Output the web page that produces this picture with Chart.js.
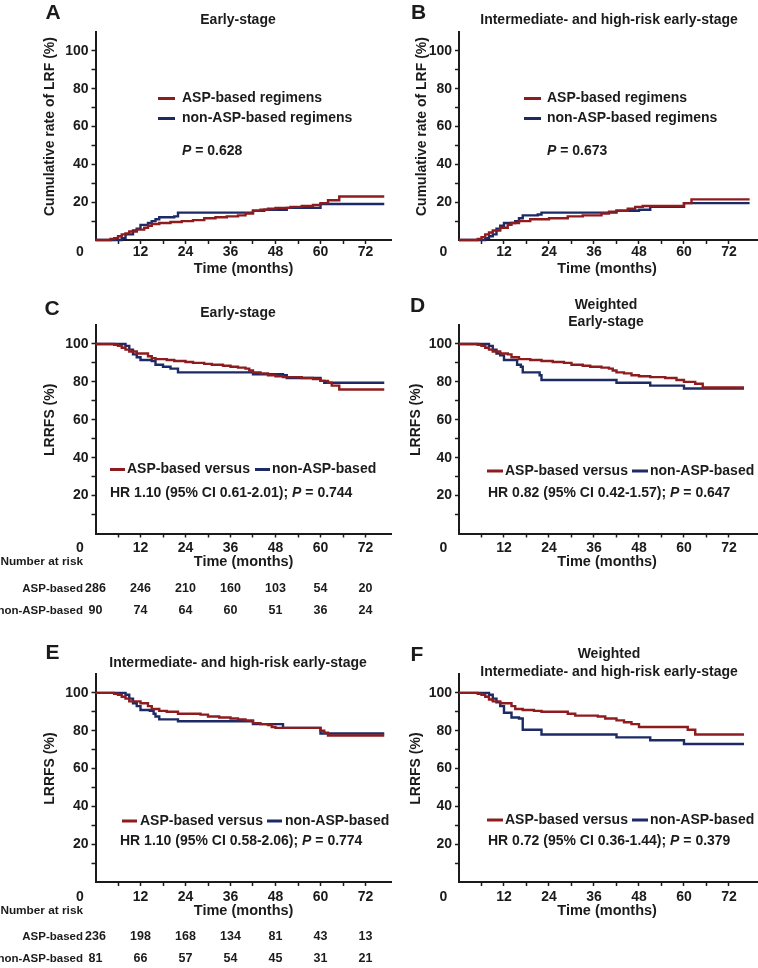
<!DOCTYPE html>
<html>
<head>
<meta charset="utf-8">
<title>LRF / LRRFS curves</title>
<script src="https://cdn.jsdelivr.net/npm/chart.js@4.4.1/dist/chart.umd.min.js"></script>
<style>
  html, body { margin: 0; padding: 0; background: #fff; }
  #page { position: relative; width: 758px; height: 968px; overflow: hidden; background: #fff; }
  #page canvas { position: absolute; }
</style>
</head>
<body>
<div id="page"></div>
<script>
// ---- axes ----
const monthMarks = [0, 6, 12, 18, 24, 30, 36, 42, 48, 54, 60, 66, 72];   // tick marks (labels every 12)
const percentMarks = [0, 10, 20, 30, 40, 50, 60, 70, 80, 90, 100];      // tick marks (labels every 20)
const riskMonths = [0, 12, 24, 36, 48, 60, 72];

// ---- A: cumulative LRF (%), early-stage ----
const monthsAspA = [0, 4, 5, 6, 7, 8, 9, 11, 13, 14, 15, 17, 20, 23, 26, 29, 32, 35, 38, 40, 42, 44, 46, 48, 52, 55, 58, 60, 62, 65, 77];
const lrfAspA    = [0, 0.5, 1, 2, 3, 3.5, 4.5, 5.5, 6.5, 7.5, 8.5, 9, 9.5, 10, 10.5, 11.5, 12, 12.5, 13, 14, 15.5, 16, 16.5, 17, 17.5, 18, 18.5, 19.5, 21, 23, 23];
const monthsNonA = [0, 6, 7, 8, 10, 11, 12, 14, 15, 16, 17, 21, 22, 41, 42, 45, 50, 51, 60, 77];
const lrfNonA    = [0, 0, 1, 3, 5, 6, 8, 9, 10, 11, 12, 12.5, 14.5, 14.5, 15.5, 16, 16, 17, 19, 19];

// ---- B: cumulative LRF (%), intermediate- and high-risk ----
const monthsAspB = [0, 5, 6, 7, 8, 9, 11, 13, 14, 16, 19, 24, 29, 33, 38, 40, 42, 45, 47, 49, 60, 62, 77.5];
const lrfAspB    = [0, 0.5, 1.5, 3, 4, 5, 6.5, 8, 9, 10, 11, 11.5, 12.5, 13, 14, 15, 15.5, 16.5, 17.5, 18, 19.5, 21.5, 21.5];
const monthsNonB = [0, 7, 8, 9, 10, 11, 12, 15, 16, 17, 21, 22, 42, 48, 51, 60, 77.5];
const lrfNonB    = [0, 1, 2, 3, 6, 7.5, 9, 10, 11.5, 13, 13.5, 14.5, 15.5, 16, 17.5, 19.5, 19.5];

// ---- C: LRRFS (%), early-stage ----
const monthsAspC = [0, 5, 6, 7, 8, 9, 11, 14, 15, 16, 19, 21, 24, 26, 29, 31, 34, 36, 38, 40, 41, 42, 44, 46, 48, 50, 55, 58, 60, 62, 63, 65, 77];
const rfsAspC    = [100, 99.5, 99, 98, 97, 96, 95, 93.5, 92.5, 92, 91.5, 91, 90.5, 90, 89.5, 89, 88.5, 88, 87.5, 87, 86, 85, 84.5, 83.5, 83, 82.5, 82, 81.5, 80.5, 79.5, 78, 76, 76];
const monthsNonC = [0, 7, 8, 9, 10, 11, 12, 15, 16, 18, 20, 22, 42, 50, 51, 60, 61, 77];
const rfsNonC    = [100, 100, 99, 97, 94.5, 93, 91.5, 91, 89, 88, 87, 85, 84, 83.5, 82, 80.5, 79.5, 79.5];

// ---- D: weighted LRRFS (%), early-stage ----
const monthsAspD = [0, 5, 6, 7, 8, 9, 11, 13, 14, 16, 19, 22, 25, 28, 30, 33, 35, 38, 40, 41, 42, 44, 46, 48, 51, 55, 58, 60, 63, 65, 76];
const rfsAspD    = [100, 99.5, 99, 98, 97, 96, 95, 94.5, 93, 92, 91.5, 91, 90.5, 90, 89, 88.5, 88, 87.5, 87, 86, 85, 84.5, 83.5, 83, 82.5, 82, 81, 80, 79, 77, 77];
const monthsNonD = [0, 7, 8, 9, 10, 11, 12, 15.5, 16.5, 17, 21.5, 22, 42, 51, 60, 76];
const rfsNonD    = [100, 100, 99, 97, 95, 94, 91.5, 89, 88, 85, 83.5, 81, 79.5, 78, 76.5, 76.5];

// ---- E: LRRFS (%), intermediate- and high-risk ----
const monthsAspE = [0, 5, 6, 7, 8, 9, 12, 14, 15, 17, 19, 22, 28, 30, 33, 36, 38, 40, 42, 44, 46, 47, 48, 60, 61, 62, 77];
const rfsAspE    = [100, 99.5, 99, 98, 97, 95.5, 94.5, 93, 91.5, 90.5, 90, 89, 88.5, 87.5, 87, 86.5, 86, 85.5, 84, 83.5, 83, 82, 81.5, 80, 79, 77.5, 77.5];
const monthsNonE = [0, 7, 8, 9, 10, 11, 12, 14.5, 15.5, 16, 17, 22, 42, 50, 60, 77];
const rfsNonE    = [100, 100, 99, 97, 94.5, 93, 91, 90.5, 89, 87.5, 86, 85, 83.5, 81.5, 78.5, 78.5];

// ---- F: weighted LRRFS (%), intermediate- and high-risk ----
const monthsAspF = [0, 5, 6, 7, 8, 9, 11, 14, 15, 17, 20, 22, 29, 31, 37, 39, 42, 44, 46, 48, 61, 63, 76];
const rfsAspF    = [100, 99.5, 99, 98, 96.5, 95.5, 94.5, 93, 91.5, 91, 90.5, 90, 89, 88, 87.5, 86.5, 85.5, 84.5, 83.5, 82, 80.5, 78, 78];
const monthsNonF = [0, 7, 8, 9, 10, 11, 12, 14, 16, 17, 22, 42, 51, 60, 76];
const rfsNonF    = [100, 100, 99, 97, 95, 93, 89.5, 87, 86.5, 80.5, 78, 76.5, 75, 73, 73];

// ---- numbers at risk ----
const riskAspC = [286, 246, 210, 160, 103, 54, 20];
const riskNonC = [90, 74, 64, 60, 51, 36, 24];
const riskAspE = [236, 198, 168, 134, 81, 43, 13];
const riskNonE = [81, 66, 57, 54, 45, 31, 21];

// ---- style ----
const INK = '#1b1b1b';
const RED = '#8e1c1f';
const BLUE = '#1c2a66';
const FAMILY = 'Arial, "Liberation Sans", Helvetica, sans-serif';
const Y_W = 40, X_H = 20;

function font(size, italic) {
  return (italic ? 'italic ' : '') + 'bold ' + size + 'px ' + FAMILY;
}

function txt(ctx, s, x, y, size, align) {
  ctx.font = font(size);
  ctx.textAlign = align || 'left';
  ctx.textBaseline = 'middle';
  ctx.fillStyle = INK;
  ctx.fillText(s, x, y);
}

// text made of plain and italic pieces, left aligned
function rich(ctx, parts, x, y, size) {
  let cx = x;
  ctx.textAlign = 'left';
  ctx.textBaseline = 'middle';
  ctx.fillStyle = INK;
  parts.forEach(pt => {
    ctx.font = font(size, pt.it);
    ctx.fillText(pt.t, cx, y);
    cx += ctx.measureText(pt.t).width;
  });
}

function kmPoints(months, vals) {
  return months.map((m, i) => ({ x: m, y: vals[i] }));
}

// draws letters, titles, legend, statistics and risk table
function panelText(p) {
  return {
    id: 'panelText',
    afterDraw(chart) {
      const ctx = chart.ctx;
      const xs = chart.scales.x, ys = chart.scales.y;
      ctx.save();
      ctx.translate(-p.left, -p.top);

      txt(ctx, p.letter, p.letterAt[0], p.letterAt[1], 21, 'center');
      p.title.forEach((line, i) => txt(ctx, line, p.titleX, p.titleY[i], 14, 'center'));

      // y title, centred on the 60 % tick
      ctx.save();
      ctx.translate(p.yTitleX, ys.getPixelForValue(60) + p.top);
      ctx.rotate(-Math.PI / 2);
      txt(ctx, p.yTitle, 0, 0, 14, 'center');
      ctx.restore();

      txt(ctx, 'Time (months)', xs.getPixelForValue(39.5) + p.left, p.area.b + 28.5, 14.5, 'center');
      txt(ctx, '0', p.area.l - 15.5, p.area.b + p.zeroDy, 14, 'center');

      // legend
      p.legend.forEach(it => {
        ctx.strokeStyle = it.color;
        ctx.lineWidth = 3;
        ctx.beginPath();
        ctx.moveTo(it.x, it.y);
        ctx.lineTo(it.x + p.keyLen, it.y);
        ctx.stroke();
        txt(ctx, it.label, it.x + p.keyLen + p.keyGap, it.y, 14, 'left');
      });
      rich(ctx, p.stat, p.statAt[0], p.statAt[1], 14);

      if (p.risk) {
        const r = p.risk;
        txt(ctx, 'Number at risk', 83, r.y[0], 11.8, 'right');
        txt(ctx, 'ASP-based', 83, r.y[1], 11.5, 'right');
        txt(ctx, 'non-ASP-based', 83, r.y[2], 11.5, 'right');
        riskMonths.forEach((m, i) => {
          const x = xs.getPixelForValue(m) + p.left;
          txt(ctx, String(r.asp[i]), x, r.y[1], 12.5, 'center');
          txt(ctx, String(r.non[i]), x, r.y[2], 12.5, 'center');
        });
      }
      ctx.restore();
    }
  };
}

function makePanel(p) {
  const cv = document.createElement('canvas');
  cv.width = p.w; cv.height = p.h;
  cv.style.left = p.left + 'px'; cv.style.top = p.top + 'px';
  cv.style.width = p.w + 'px'; cv.style.height = p.h + 'px';
  document.getElementById('page').appendChild(cv);

  const a = p.area;
  const hideZero = c => (c.tick && c.tick.value === 0) ? 'rgba(0,0,0,0)' : INK;
  const tickFont = { family: FAMILY, size: 14, weight: 'bold' };

  new Chart(cv.getContext('2d'), {
    type: 'line',
    data: {
      datasets: [
        { label: 'ASP-based', data: kmPoints(p.asp[0], p.asp[1]), borderColor: RED, borderWidth: 2.4,
          stepped: 'before', pointRadius: 0, fill: false, clip: false },
        { label: 'non-ASP-based', data: kmPoints(p.non[0], p.non[1]), borderColor: BLUE, borderWidth: 2.4,
          stepped: 'before', pointRadius: 0, fill: false, clip: false }
      ]
    },
    options: {
      responsive: false,
      animation: false,
      layout: {
        padding: {
          left: a.l - p.left - Y_W,
          top: a.t - p.top,
          right: p.left + p.w - a.r,
          bottom: p.top + p.h - a.b - X_H
        }
      },
      plugins: { legend: { display: false }, tooltip: { enabled: false } },
      scales: {
        x: {
          type: 'linear', min: 0, max: p.xMax,
          afterFit: s => { s.height = X_H; },
          afterBuildTicks: s => { s.ticks = monthMarks.map(v => ({ value: v })); },
          ticks: {
            autoSkip: false, maxRotation: 0, padding: p.xPad, color: INK, font: tickFont,
            callback: v => (v > 0 && v % 12 === 0) ? String(v) : ''
          },
          grid: { drawOnChartArea: false, drawTicks: true, tickLength: 4, tickWidth: 1.5, tickColor: hideZero },
          border: { display: true, color: INK, width: 2 }
        },
        y: {
          type: 'linear', min: 0, max: 110,
          afterFit: s => { s.width = Y_W; },
          afterBuildTicks: s => { s.ticks = percentMarks.map(v => ({ value: v })); },
          ticks: {
            autoSkip: false, padding: 3, color: INK, font: tickFont,
            callback: v => (v > 0 && v % 20 === 0) ? String(v) : ''
          },
          grid: { drawOnChartArea: false, drawTicks: true, tickLength: 4, tickWidth: 1.5, tickColor: hideZero },
          border: { display: true, color: INK, width: 2 }
        }
      }
    },
    plugins: [panelText(p)]
  });
}

const LEFT_AREA = { l: 95.5, r: 391.75 };
const RIGHT_AREA = { l: 459, r: 757.1 };
const lrfTitle = 'Cumulative rate of LRF (%)';
const rfsTitle = 'LRRFS (%)';
const ihr = 'Intermediate- and high-risk early-stage';

const panels = [
  { letter: 'A', letterAt: [53, 13.5], title: ['Early-stage'], titleX: 238, titleY: [20],
    left: 0, top: 0, w: 400, h: 300, area: Object.assign({ t: 32, b: 240 }, LEFT_AREA), xMax: 79,
    xPad: 0, zeroDy: 12.4, yTitle: lrfTitle, yTitleX: 50,
    asp: [monthsAspA, lrfAspA], non: [monthsNonA, lrfNonA],
    keyLen: 17, keyGap: 7,
    legend: [{ color: RED, x: 158, y: 98.5, label: 'ASP-based regimens' },
             { color: BLUE, x: 158, y: 118.5, label: 'non-ASP-based regimens' }],
    stat: [{ t: 'P', it: true }, { t: ' = 0.628' }], statAt: [182, 151] },
  { letter: 'B', letterAt: [418.5, 13.5], title: [ihr], titleX: 609, titleY: [20],
    left: 379, top: 0, w: 379, h: 300, area: Object.assign({ t: 32, b: 240 }, RIGHT_AREA), xMax: 79.5,
    xPad: 0, zeroDy: 12.4, yTitle: lrfTitle, yTitleX: 422,
    asp: [monthsAspB, lrfAspB], non: [monthsNonB, lrfNonB],
    keyLen: 17, keyGap: 6,
    legend: [{ color: RED, x: 524, y: 98.5, label: 'ASP-based regimens' },
             { color: BLUE, x: 524, y: 118.5, label: 'non-ASP-based regimens' }],
    stat: [{ t: 'P', it: true }, { t: ' = 0.673' }], statAt: [547, 151] },
  { letter: 'C', letterAt: [52, 309], title: ['Early-stage'], titleX: 238, titleY: [313],
    left: 0, top: 295, w: 400, h: 335, area: Object.assign({ t: 325, b: 533.5 }, LEFT_AREA), xMax: 79,
    xPad: 2.5, zeroDy: 15, yTitle: rfsTitle, yTitleX: 50,
    asp: [monthsAspC, rfsAspC], non: [monthsNonC, rfsNonC],
    keyLen: 15, keyGap: 2,
    legend: [{ color: RED, x: 110, y: 469.5, label: 'ASP-based versus' },
             { color: BLUE, x: 255, y: 469.5, label: 'non-ASP-based' }],
    stat: [{ t: 'HR 1.10 (95% CI 0.61-2.01); ' }, { t: 'P', it: true }, { t: ' = 0.744' }], statAt: [110, 493],
    risk: { y: [562, 589, 611], asp: riskAspC, non: riskNonC } },
  { letter: 'D', letterAt: [417.5, 306], title: ['Weighted', 'Early-stage'], titleX: 606, titleY: [305, 322],
    left: 379, top: 295, w: 379, h: 335, area: Object.assign({ t: 325, b: 533.5 }, RIGHT_AREA), xMax: 79.5,
    xPad: 2.5, zeroDy: 15, yTitle: rfsTitle, yTitleX: 416.5,
    asp: [monthsAspD, rfsAspD], non: [monthsNonD, rfsNonD],
    keyLen: 16, keyGap: 2,
    legend: [{ color: RED, x: 487, y: 471, label: 'ASP-based versus' },
             { color: BLUE, x: 632, y: 471, label: 'non-ASP-based' }],
    stat: [{ t: 'HR 0.82 (95% CI 0.42-1.57); ' }, { t: 'P', it: true }, { t: ' = 0.647' }], statAt: [488, 493] },
  { letter: 'E', letterAt: [52.5, 653.5], title: [ihr], titleX: 238, titleY: [663],
    left: 0, top: 640, w: 400, h: 328, area: Object.assign({ t: 674, b: 882 }, LEFT_AREA), xMax: 79,
    xPad: 2.5, zeroDy: 15, yTitle: rfsTitle, yTitleX: 50,
    asp: [monthsAspE, rfsAspE], non: [monthsNonE, rfsNonE],
    keyLen: 15, keyGap: 3,
    legend: [{ color: RED, x: 122, y: 821, label: 'ASP-based versus' },
             { color: BLUE, x: 267, y: 821, label: 'non-ASP-based' }],
    stat: [{ t: 'HR 1.10 (95% CI 0.58-2.06); ' }, { t: 'P', it: true }, { t: ' = 0.774' }], statAt: [120, 841],
    risk: { y: [911, 937, 959], asp: riskAspE, non: riskNonE } },
  { letter: 'F', letterAt: [417, 655], title: ['Weighted', ihr], titleX: 609, titleY: [654, 672],
    left: 379, top: 640, w: 379, h: 328, area: Object.assign({ t: 674, b: 882 }, RIGHT_AREA), xMax: 79.5,
    xPad: 2.5, zeroDy: 15, yTitle: rfsTitle, yTitleX: 416,
    asp: [monthsAspF, rfsAspF], non: [monthsNonF, rfsNonF],
    keyLen: 16, keyGap: 2,
    legend: [{ color: RED, x: 487, y: 820, label: 'ASP-based versus' },
             { color: BLUE, x: 632, y: 820, label: 'non-ASP-based' }],
    stat: [{ t: 'HR 0.72 (95% CI 0.36-1.44); ' }, { t: 'P', it: true }, { t: ' = 0.379' }], statAt: [488, 841] }
];

panels.forEach(makePanel);
</script>
</body>
</html>
